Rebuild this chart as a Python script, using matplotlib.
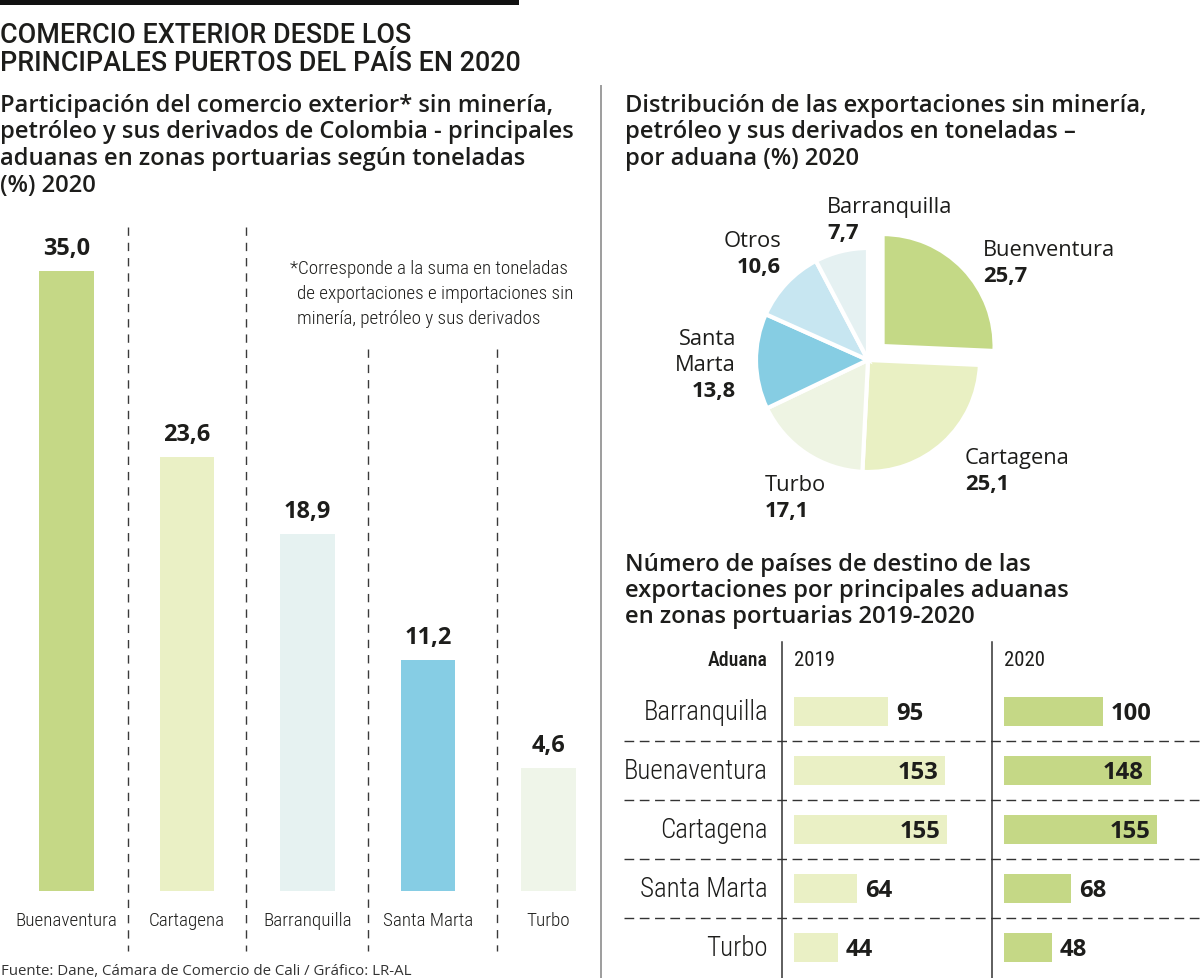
import matplotlib
matplotlib.use("Agg")
import matplotlib.pyplot as plt
import matplotlib.font_manager as fm
from matplotlib.lines import Line2D
from matplotlib.patches import Rectangle

# ---------------- data ----------------
title_lines = ["COMERCIO EXTERIOR DESDE LOS", "PRINCIPALES PUERTOS DEL PAÍS EN 2020"]
left_sub = ["Participación del comercio exterior* sin minería,",
            "petróleo y sus derivados de Colombia - principales",
            "aduanas en zonas portuarias según toneladas",
            "(%) 2020"]
footnote = ["*Corresponde a la suma en toneladas",
            "de exportaciones e importaciones sin",
            "minería, petróleo y sus derivados"]
bar_cats = ["Buenaventura", "Cartagena", "Barranquilla", "Santa Marta", "Turbo"]
bar_vals = [35.0, 23.6, 18.9, 11.2, 4.6]
bar_colors = ["#c5d886", "#eaf0c5", "#e6f2f1", "#86cde4", "#eff5e9"]

pie_sub = ["Distribución de las exportaciones sin minería,",
           "petróleo y sus derivados en toneladas –",
           "por aduana (%) 2020"]
pie_labels = ["Buenventura", "Cartagena", "Turbo", "Santa\nMarta", "Otros", "Barranquilla"]
pie_vals = [25.7, 25.1, 17.1, 13.8, 10.6, 7.7]
pie_colors = ["#c4d986", "#e9f0c3", "#eef4e3", "#86cde3", "#c7e6f1", "#e5f1f2"]

tbl_sub = ["Número de países de destino de las",
           "exportaciones por principales aduanas",
           "en zonas portuarias 2019-2020"]
tbl_head = "Aduana"
tbl_years = ["2019", "2020"]
tbl_rows = ["Barranquilla", "Buenaventura", "Cartagena", "Santa Marta", "Turbo"]
tbl_2019 = [95, 153, 155, 64, 44]
tbl_2020 = [100, 148, 155, 68, 48]
tbl_colors = ["#eaf0c5", "#c5d886"]

source = "Fuente: Dane, Cámara de Comercio de Cali / Gráfico: LR-AL"

# ---------------- figure ----------------
W, H = 1200, 979
fig = plt.figure(figsize=(W / 100, H / 100), dpi=100)
fig.patch.set_facecolor("white")
renderer = fig.canvas.get_renderer()
INK = "#1d1d1b"

# ---------------- fonts ----------------
fl = fm.fontManager.ttflist
names = {f.name for f in fl}


def first(cands, default="DejaVu Sans"):
    for c in cands:
        if c in names:
            return c
    return default


REG = first(["Open Sans", "Noto Sans", "Lato", "DejaVu Sans"])
TIT = first(["Roboto", "Lato", "Open Sans", "DejaVu Sans"])


def wnum(w):
    if isinstance(w, (int, float)):
        return w
    return fm.weight_dict.get(w, 400)


def cond_fp(weight):
    prefs = ["Roboto Condensed", "Open Sans Condensed", "Noto Sans Condensed",
             "Liberation Sans Narrow", "Noto Sans", "Open Sans", "DejaVu Sans", "Roboto"]
    cands = []
    for f in fl:
        st = f.stretch
        if isinstance(st, str):
            cond = st in ("condensed", "semi-condensed", "extra-condensed", "ultra-condensed")
        else:
            cond = st < 500
        if f.name in ("Roboto Condensed", "Open Sans Condensed", "Liberation Sans Narrow",
                      "Noto Sans Condensed"):
            cond = True
        if cond and f.style == "normal" and f.name in prefs:
            cands.append(f)
    if not cands:
        return fm.FontProperties(family=REG, weight=weight)
    cands.sort(key=lambda f: (prefs.index(f.name), abs(wnum(f.weight) - weight)))
    return fm.FontProperties(fname=cands[0].fname)


def reg_fp(weight, family=None):
    return fm.FontProperties(family=family or REG, weight=weight)


def sized(fp, s, target):
    t = fig.text(0, 0, s, fontproperties=fp)
    t.set_fontsize(20)
    w = t.get_window_extent(renderer=renderer).width
    t.remove()
    p = fp.copy()
    p.set_size(20 * target / w)
    return p


f_title = sized(reg_fp("medium", TIT), title_lines[1], 519)
f_sub = sized(reg_fp("semibold"), left_sub[1], 573)
f_num = sized(reg_fp("bold"), "25,7", 44)
f_bnum = sized(reg_fp("bold"), "35,0", 47)
f_pie = sized(reg_fp("normal"), "Buenventura", 132)
f_cat = sized(cond_fp(300), "Buenaventura", 102)
f_note = sized(cond_fp(300), footnote[1], 276)
f_row = sized(cond_fp(300), "Buenaventura", 144)
f_head = sized(cond_fp(500), tbl_head, 60)
f_year = sized(cond_fp(400), "2019", 41)
f_tnum = sized(reg_fp("bold"), "100", 41)
f_src = sized(reg_fp("normal"), source, 408)


def T(x, y, s, fp, ha="left", va="baseline", color=INK, **kw):
    return fig.text(x / W, 1 - y / H, s, fontproperties=fp, ha=ha, va=va, color=color, **kw)


def L(x0, y0, x1, y1, **kw):
    fig.add_artist(Line2D([x0 / W, x1 / W], [1 - y0 / H, 1 - y1 / H],
                          transform=fig.transFigure, **kw))


def axes_px(x0, y0, x1, y1):
    return fig.add_axes([x0 / W, 1 - y1 / H, (x1 - x0) / W, (y1 - y0) / H])


def fmt(v):
    return f"{v:.1f}".replace(".", ",")


# ---------------- header ----------------
fig.add_artist(Rectangle((0, 1 - 6 / H), 519 / W, 6 / H, transform=fig.transFigure,
                         color="#111111", lw=0))
for s, yb in zip(title_lines, [43, 71]):
    T(0, yb, s, f_title)
for s, yb in zip(left_sub, [112, 138.5, 165, 191.5]):
    T(0, yb, s, f_sub)

# main separator
L(601, 87, 601, 979, color="#9d9d9d", lw=1.4)

# ---------------- left bar chart ----------------
FLOOR = -2.923
PXU = 16.349
BASE = 892
TOPPX = 200
axb = axes_px(6.25, TOPPX, 608.75, BASE)
axb.set_xlim(-0.5, len(bar_vals) - 0.5)
axb.set_ylim(FLOOR, FLOOR + (BASE - TOPPX) / PXU)
axb.axis("off")
xs = list(range(len(bar_vals)))
axb.bar(xs, [v - FLOOR for v in bar_vals], bottom=FLOOR, width=0.456,
        color=bar_colors, linewidth=0)
for i, v in enumerate(bar_vals):
    axb.annotate(fmt(v), (i, v), xytext=(0, 17), textcoords="offset pixels",
                 ha="center", va="baseline", fontproperties=f_bnum, color=INK)
    axb.annotate(bar_cats[i], (i, FLOOR), xytext=(0, -34), textcoords="offset pixels",
                 ha="center", va="baseline", fontproperties=f_cat, color=INK)

dash_v = dict(color="#3a3a3a", lw=1.0, linestyle=(0, (6, 5)))
L(128, 228, 128, 952, **dash_v)
L(246, 228, 246, 952, **dash_v)
L(368, 350, 368, 952, **dash_v)
L(497, 350, 497, 952, **dash_v)

T(290, 274, footnote[0], f_note)
T(297, 299, footnote[1], f_note)
T(297, 324, footnote[2], f_note)

T(1, 975, source, f_src, color="#333333")

# ---------------- pie ----------------
for s, yb in zip(pie_sub, [112, 138.5, 165]):
    T(625, yb, s, f_sub)

CX, CY, R = 868, 361, 112
E = 1.4
axp = axes_px(CX - R * E, CY - R * E, CX + R * E, CY + R * E)
axp.pie(pie_vals, colors=pie_colors, startangle=90, counterclock=False, radius=1,
        explode=[0.18, 0, 0, 0, 0, 0],
        wedgeprops=dict(edgecolor="white", linewidth=3))
axp.set_xlim(-E, E)
axp.set_ylim(-E, E)
axp.set_aspect("equal")
axp.axis("off")

# labels around the pie
T(983, 256, pie_labels[0], f_pie)
T(983, 282, fmt(pie_vals[0]), f_num)
T(965, 464, pie_labels[1], f_pie)
T(965, 490, fmt(pie_vals[1]), f_num)
T(765, 491, pie_labels[2], f_pie)
T(765, 517, fmt(pie_vals[2]), f_num)
sm = pie_labels[3].split("\n")
T(736, 345, sm[0], f_pie, ha="right")
T(736, 371, sm[1], f_pie, ha="right")
T(736, 397, fmt(pie_vals[3]), f_num, ha="right")
T(781, 247, pie_labels[4], f_pie, ha="right")
T(781, 273, fmt(pie_vals[4]), f_num, ha="right")
T(827, 213, pie_labels[5], f_pie)
T(827, 239, fmt(pie_vals[5]), f_num)

# ---------------- table ----------------
for s, yb in zip(tbl_sub, [571, 597, 623]):
    T(625, yb, s, f_sub)

T(768, 666, tbl_head, f_head, ha="right")
T(794, 666, tbl_years[0], f_year)
T(1004, 666, tbl_years[1], f_year)

L(781.5, 643, 781.5, 979, color="#333333", lw=1.1)
L(992, 643, 992, 979, color="#333333", lw=1.1)
for yy in [742, 801, 860, 919]:
    L(624, yy, 1200, yy, color="#333333", lw=1.0, linestyle=(0, (7, 4)))

ROW0, ROWH = 712.5, 59
PXV = 0.99
n = len(tbl_rows)
ytop = ROW0 - ROWH / 2
ybot = ROW0 + ROWH * (n - 0.5)
for k, (vals, x0) in enumerate([(tbl_2019, 794), (tbl_2020, 1004)]):
    ax = axes_px(x0, ytop, x0 + 196, ybot)
    ax.set_xlim(0, 196 / PXV)
    ax.set_ylim(n - 0.5, -0.5)
    ax.axis("off")
    ax.barh(range(n), vals, height=29 / ROWH, color=tbl_colors[k], linewidth=0)
    for i, v in enumerate(vals):
        if v > 120:
            ax.annotate(str(v), (v, i), xytext=(-7, -7.5), textcoords="offset pixels",
                        ha="right", va="baseline", fontproperties=f_tnum, color=INK)
        else:
            ax.annotate(str(v), (v, i), xytext=(8, -7.5), textcoords="offset pixels",
                        ha="left", va="baseline", fontproperties=f_tnum, color=INK)
        if k == 0:
            ax.annotate(tbl_rows[i], (0, i), xytext=(-26, -7.5), textcoords="offset pixels",
                        ha="right", va="baseline", fontproperties=f_row, color=INK)

fig.savefig("out.png", dpi=100, facecolor="white")
